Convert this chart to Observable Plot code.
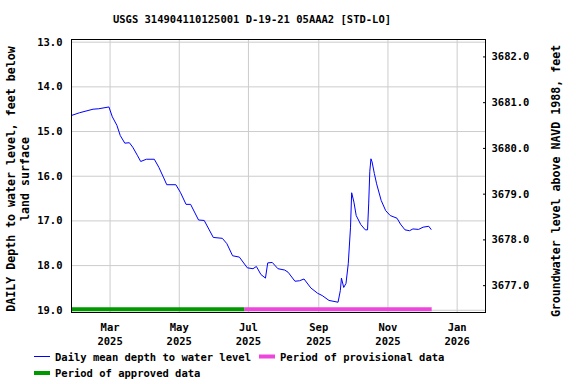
<!DOCTYPE html>
<html><head><meta charset="utf-8">
<script src="https://cdn.jsdelivr.net/npm/d3@7"></script>
<script src="https://cdn.jsdelivr.net/npm/@observablehq/plot@0.6"></script>
<style>body{margin:0;background:#fff}</style>
</head><body><div id="chart"></div>
<script>
// ---- data ----
const dates = ["2025-01-26","2025-02-02","2025-02-14","2025-02-19","2025-02-28","2025-03-03","2025-03-07","2025-03-10","2025-03-14","2025-03-18","2025-03-21","2025-03-25","2025-03-28","2025-04-02","2025-04-09","2025-04-13","2025-04-17","2025-04-20","2025-04-28","2025-05-02","2025-05-07","2025-05-11","2025-05-18","2025-05-23","2025-05-31","2025-06-08","2025-06-12","2025-06-17","2025-06-23","2025-06-30","2025-07-05","2025-07-08","2025-07-12","2025-07-16","2025-07-18","2025-07-22","2025-07-27","2025-08-02","2025-08-05","2025-08-11","2025-08-15","2025-08-19","2025-08-25","2025-08-31","2025-09-04","2025-09-10","2025-09-18","2025-09-20","2025-09-21","2025-09-23","2025-09-25","2025-09-27","2025-09-29","2025-09-30","2025-10-02","2025-10-04","2025-10-08","2025-10-12","2025-10-14","2025-10-15","2025-10-16","2025-10-17","2025-10-18","2025-10-20","2025-10-22","2025-10-26","2025-10-30","2025-11-03","2025-11-09","2025-11-12","2025-11-16","2025-11-20","2025-11-23","2025-11-28","2025-12-02","2025-12-07","2025-12-09"];
const depths = [14.64,14.58,14.50,14.49,14.45,14.67,14.86,15.09,15.26,15.25,15.35,15.53,15.67,15.62,15.62,15.80,16.02,16.19,16.19,16.36,16.63,16.63,16.98,16.99,17.37,17.39,17.51,17.78,17.81,18.05,18.07,18.02,18.20,18.28,17.94,17.93,18.07,18.10,18.15,18.35,18.34,18.30,18.50,18.62,18.67,18.78,18.82,18.56,18.28,18.49,18.40,17.96,17.14,16.37,16.58,16.88,17.08,17.20,17.20,16.62,15.89,15.61,15.68,15.94,16.17,16.54,16.77,16.88,16.94,17.07,17.20,17.22,17.18,17.19,17.14,17.12,17.19];
const leftTicks = [13, 14, 15, 16, 17, 18, 19];
const rightTicks = [3677, 3678, 3679, 3680, 3681, 3682];
const xTicks = ["2025-03-01","2025-05-01","2025-07-01","2025-09-01","2025-11-01","2026-01-01"];
const periodNames = ["approved", "provisional"];
const periodStarts = ["2025-01-26", "2025-06-28"];
const periodEnds = ["2025-06-28", "2025-12-10"];
const xDomain = ["2025-01-26", "2026-01-26"];
const yDomain = [12.94, 19.05];

// right-axis conversion (elevation -> depth position as drawn in reference)
const RIGHT_REF_ELEV = 3682, RIGHT_REF_DEPTH = 13.33, RIGHT_SLOPE = 1.0238;
const elevToDepth = e => RIGHT_REF_DEPTH + (RIGHT_REF_ELEV - e) * RIGHT_SLOPE;
const depthToElev = d => RIGHT_REF_ELEV - (d - RIGHT_REF_DEPTH) / RIGHT_SLOPE;

const parse = d3.utcParse("%Y-%m-%d");
const series = dates.map((d, i) => ({date: parse(d), depth: depths[i]}));
const periods = periodNames.map((n, i) => ({name: n, start: parse(periodStarts[i]), end: parse(periodEnds[i])}));
const colors = {line: "#0000ff", approved: "#009900", provisional: "#ee45dd"};
const FONT = "DejaVu Sans Mono";
const BAR_DEPTH = 18.98;

const svg = Plot.plot({
  width: 576, height: 384,
  marginLeft: 71, marginRight: 91, marginTop: 39, marginBottom: 72,
  style: {fontFamily: FONT, fontSize: "10.5px", fontWeight: "bold", color: "black", background: "white", overflow: "visible"},
  x: {type: "utc", domain: xDomain.map(parse)},
  y: {domain: yDomain, reverse: true},
  marks: [
    Plot.gridY(leftTicks, {stroke: "#cccccc", strokeOpacity: 1}),
    Plot.gridX(xTicks.map(parse), {stroke: "#cccccc", strokeOpacity: 1}),
    Plot.ruleY(periods, {y: () => BAR_DEPTH, x1: "start", x2: "end", stroke: d => colors[d.name], strokeWidth: 4}),
    Plot.line(series, {x: "date", y: "depth", stroke: colors.line, strokeWidth: 1}),
    Plot.frame({stroke: "black"}),
    Plot.axisY(leftTicks, {anchor: "left", tickSize: 0, tickPadding: 9, tickFormat: d3.format(".1f"), label: null}),
    Plot.axisY(rightTicks.map(elevToDepth), {anchor: "right", tickSize: 3, insetRight: 3, tickPadding: 6, tickFormat: d => depthToElev(d).toFixed(1), label: null}),
    Plot.axisX(xTicks.map(parse), {anchor: "bottom", tickSize: 0, tickPadding: 9, lineHeight: 1.3, tickFormat: d => d3.utcFormat("%b")(d) + "\n" + d3.utcFormat("%Y")(d), label: null})
  ]
});
document.getElementById("chart").appendChild(svg);

const s = d3.select(svg);
const txt = (x, y, str, opts = {}) => s.append("text")
  .attr("x", x).attr("y", y)
  .attr("font-family", FONT).attr("font-weight", "bold")
  .attr("font-size", opts.size || "10.5px")
  .attr("text-anchor", opts.anchor || "start")
  .attr("dominant-baseline", "central")
  .attr("transform", opts.transform || null)
  .attr("fill", "black")
  .text(str);

// title
txt(252, 19, "USGS 314904110125001 D-19-21 05AAA2 [STD-LO]", {anchor: "middle"});
// left axis title (two lines, rotated)
txt(-179, 11, "DAILY Depth to water level, feet below", {anchor: "middle", size: "11.6px", transform: "rotate(-90)"});
txt(-179, 24.5, "land surface", {anchor: "middle", size: "11.6px", transform: "rotate(-90)"});
// right axis title
txt(-181, 556, "Groundwater level above NAVD 1988, feet", {anchor: "middle", size: "11.6px", transform: "rotate(-90)"});

// legend
const legendItems = [
  {label: "Daily mean depth to water level", color: colors.line, w: 1, x: 34, y: 356.5},
  {label: "Period of provisional data", color: colors.provisional, w: 4, x: 259, y: 356.5},
  {label: "Period of approved data", color: colors.approved, w: 4, x: 34, y: 373}
];
for (const it of legendItems) {
  s.append("line").attr("x1", it.x).attr("x2", it.x + 16).attr("y1", it.y).attr("y2", it.y)
    .attr("stroke", it.color).attr("stroke-width", it.w);
  txt(it.x + 21, it.y, it.label);
}
</script></body></html>
